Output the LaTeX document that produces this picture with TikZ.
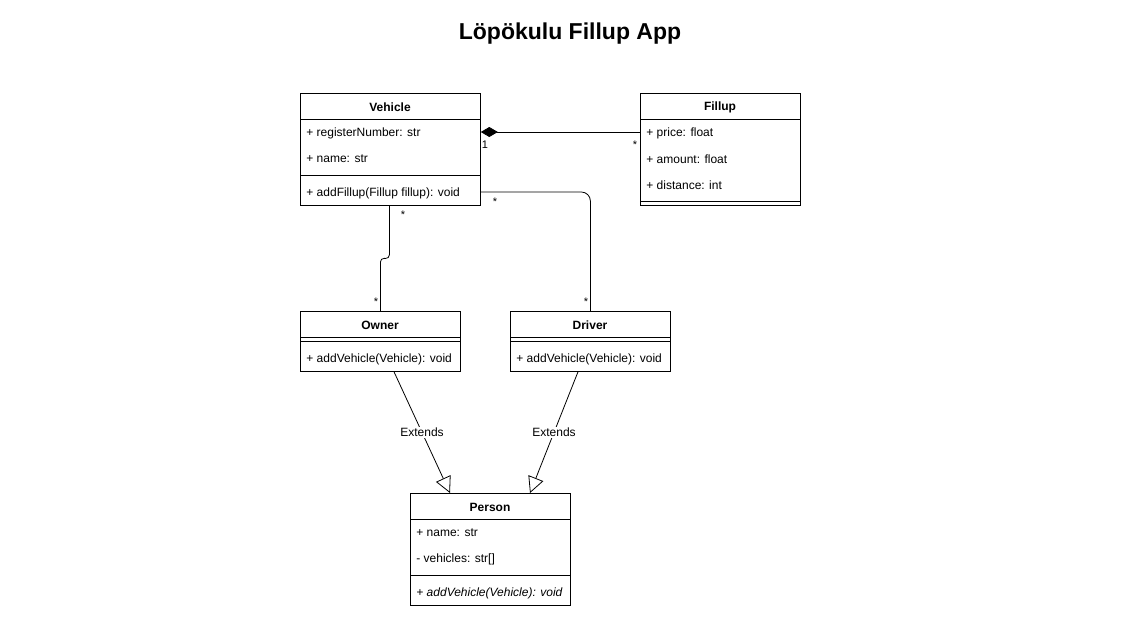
\documentclass[tikz,border=0pt]{standalone}
\usepackage{fontspec}
\setmainfont{Liberation Sans}
\usetikzlibrary{arrows.meta,calc}
\begin{document}
\begin{tikzpicture}[x=1pt,y=-1pt,line width=0.8pt,
  box/.style={draw,rectangle,inner sep=0pt,anchor=north west},
  hdr/.style={font=\fontsize{12}{14}\selectfont\bfseries,inner sep=0pt},
  row/.style={anchor=west,inner sep=0pt,font=\fontsize{12}{14}\selectfont},
  rowit/.style={row,font=\fontsize{12}{14}\selectfont\itshape},
  mult/.style={font=\fontsize{11}{12}\selectfont,inner sep=0pt},
  lbl/.style={font=\fontsize{12}{14}\selectfont,fill=white,inner sep=1pt},
  gen/.style={-{Triangle[open,length=16pt,width=16pt]}}]
\useasboundingbox[fill=white] (0,0) rectangle (1141,629);
\node[font=\fontsize{23}{27}\selectfont\bfseries] (title) at (570,34) {Löpökulu Fillup App};

% Vehicle
\node[box,minimum width=180pt,minimum height=112pt] (veh) at (300,93) {};
\node[hdr] (vehT) at (390,107) {Vehicle};
\draw (300,119) -- (480,119);
\node[row] (vreg) at (306,133) {+ registerNumber: str};
\node[row] (vname) at (306,159) {+ name: str};
\draw (300,175) -- (480,175);
\node[row] (vadd) at (306,193) {+ addFillup(Fillup fillup): void};

% Fillup
\node[box,minimum width=160pt,minimum height=112pt] (fil) at (640,93) {};
\node[hdr] (filT) at (720,107) {Fillup};
\draw (640,119) -- (800,119);
\node[row] (fprice) at (646,133) {+ price: float};
\node[row] (famt) at (646,159) {+ amount: float};
\node[row] (fdist) at (646,185) {+ distance: int};
\draw (640,201) -- (800,201);

% Owner
\node[box,minimum width=160pt,minimum height=60pt] (own) at (300,311) {};
\node[hdr] (ownT) at (380,325) {Owner};
\draw (300,337) -- (460,337);
\draw (300,341) -- (460,341);
\node[row] (oadd) at (306,359) {+ addVehicle(Vehicle): void};

% Driver
\node[box,minimum width=160pt,minimum height=60pt] (drv) at (510,311) {};
\node[hdr] (drvT) at (590,325) {Driver};
\draw (510,337) -- (670,337);
\draw (510,341) -- (670,341);
\node[row] (dadd) at (516,359) {+ addVehicle(Vehicle): void};

% Person
\node[box,minimum width=160pt,minimum height=112pt] (per) at (410,493) {};
\node[hdr] (perT) at (490,507) {Person};
\draw (410,519) -- (570,519);
\node[row] (pname) at (416,533) {+ name: str};
\node[row] (pveh) at (416,559) {- vehicles: str[]};
\draw (410,575) -- (570,575);
\node[rowit] (padd) at (416,593) {+ addVehicle(Vehicle): void};

% composition
\coordinate (vc) at (veh.east |- 0,132);
\coordinate (fc) at (fil.west |- 0,132);
\draw[{Diamond[fill=black,length=17pt,width=10pt]}-] (vc) -- (fc);
\node[mult] (m1) at (485,145) {1};
\node[mult] (m2) at (635,145) {*};

% Vehicle - Owner
\draw[rounded corners=4pt] ($(veh.south)+(-1,0)$) -- ($(veh.south)+(-1,53)$) -- ($(own.north)+(0,-53)$) -- (own.north);
\node[mult] (m3) at (403,215) {*};
\node[mult] (m4) at (376,302) {*};

% Vehicle - Driver
\coordinate (vd) at (veh.east |- 0,192);
\coordinate (vdc) at (drv.north |- vd);
\draw[rounded corners=9pt] (vd) -- (vdc) -- (drv.north);
\node[mult] (m5) at (495,202) {*};
\node[mult] (m6) at (586,302) {*};

% generalisations
\coordinate (os) at ($(own.south west)+(94,0)$);
\coordinate (pt1) at ($(per.north west)+(40,0)$);
\coordinate (ds) at ($(drv.south west)+(68,0)$);
\coordinate (pt2) at ($(per.north west)+(120,0)$);
\draw[gen] (os) -- node[lbl,pos=0.5] (e1) {Extends} (pt1);
\draw[gen] (ds) -- node[lbl,pos=0.5] (e2) {Extends} (pt2);
\end{tikzpicture}
\end{document}
